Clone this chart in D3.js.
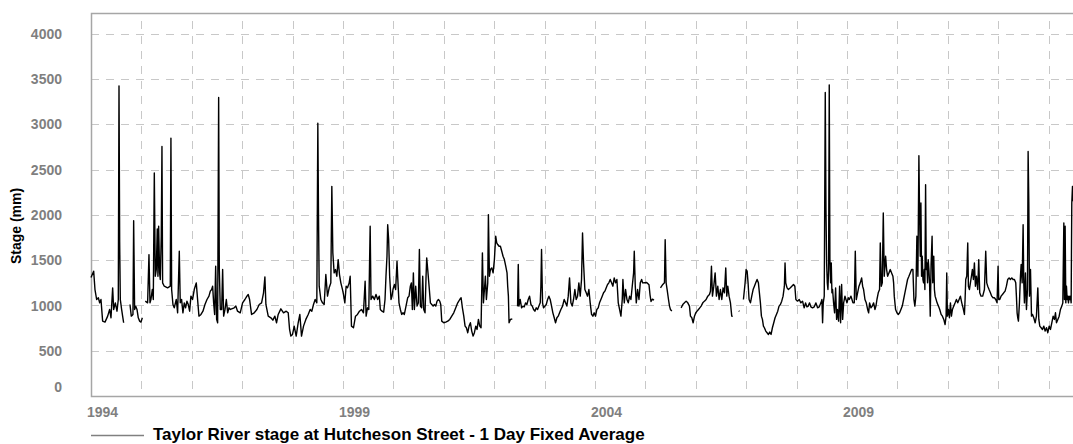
<!DOCTYPE html>
<html>
<head>
<meta charset="utf-8">
<script src="https://cdn.jsdelivr.net/npm/d3@7"></script>
<style>
  body { margin: 0; background: #fff; }
  text { font-family: "Liberation Sans", Arial, sans-serif; font-weight: bold; }
</style>
</head>
<body>
<div id="chart"></div>
<script>
// decimal year of each reading, null value = no data (gap)
const years = [
  1994.000,1994.053,1994.079,1994.112,1994.146,1994.172,1994.198,1994.231,1994.278,1994.331,1994.370,1994.397,
  1994.430,1994.450,1994.483,1994.516,1994.542,1994.556,1994.569,1994.582,1994.608,1994.628,1994.648,1994.700,
  1994.774,1994.800,1994.833,1994.847,1994.866,1994.886,1994.913,1994.939,1994.966,1994.992,1995.019,1995.050,
  1995.078,1995.124,1995.151,1995.171,1995.190,1995.217,1995.237,1995.257,1995.276,1995.296,1995.316,1995.329,
  1995.343,1995.362,1995.376,1995.395,1995.409,1995.422,1995.455,1995.521,1995.574,1995.587,1995.601,1995.627,
  1995.653,1995.693,1995.720,1995.753,1995.772,1995.799,1995.825,1995.852,1995.878,1995.905,1995.931,1995.958,
  1995.984,1996.017,1996.050,1996.090,1996.116,1996.143,1996.183,1996.222,1996.262,1996.302,1996.341,1996.368,
  1996.394,1996.414,1996.434,1996.454,1996.474,1996.493,1996.513,1996.533,1996.546,1996.566,1996.593,1996.612,
  1996.632,1996.659,1996.685,1996.712,1996.738,1996.765,1996.841,1996.874,1996.907,1996.960,1997.007,1997.053,
  1997.093,1997.119,1997.146,1997.185,1997.238,1997.291,1997.337,1997.384,1997.423,1997.450,1997.470,1997.516,
  1997.569,1997.608,1997.648,1997.681,1997.714,1997.767,1997.820,1997.873,1997.913,1997.940,1997.966,1997.999,
  1998.032,1998.071,1998.111,1998.144,1998.177,1998.217,1998.263,1998.310,1998.349,1998.382,1998.415,1998.448,
  1998.481,1998.501,1998.514,1998.528,1998.561,1998.594,1998.627,1998.660,1998.693,1998.726,1998.759,1998.779,
  1998.799,1998.825,1998.852,1998.878,1998.905,1998.931,1998.958,1998.991,1999.011,1999.037,1999.063,1999.090,
  1999.123,1999.143,1999.169,1999.209,1999.249,1999.288,1999.328,1999.368,1999.407,1999.440,1999.460,1999.487,
  1999.513,1999.540,1999.557,1999.590,1999.623,1999.656,1999.689,1999.722,1999.742,1999.775,1999.808,1999.835,
  1999.854,1999.874,1999.888,1999.907,1999.927,1999.954,1999.974,1999.993,2000.020,2000.046,2000.073,2000.086,
  2000.112,2000.139,2000.165,2000.192,2000.218,2000.251,2000.284,2000.311,2000.337,2000.357,2000.377,2000.397,
  2000.417,2000.443,2000.470,2000.496,2000.516,2000.536,2000.562,2000.582,2000.602,2000.628,2000.648,2000.661,
  2000.681,2000.708,2000.734,2000.761,2000.788,2000.813,2000.840,2000.866,2000.893,2000.919,2000.939,2000.959,
  2000.999,2001.038,2001.078,2001.118,2001.157,2001.197,2001.237,2001.276,2001.316,2001.343,2001.369,2001.396,
  2001.422,2001.448,2001.475,2001.501,2001.528,2001.554,2001.581,2001.607,2001.634,2001.660,2001.687,2001.713,
  2001.739,2001.766,2001.786,2001.806,2001.825,2001.845,2001.872,2001.885,2001.905,2001.925,2001.951,2001.978,
  2002.004,2002.030,2002.050,2002.070,2002.097,2002.123,2002.150,2002.176,2002.202,2002.229,2002.255,2002.268,
  2002.282,2002.295,2002.321,2002.359,2002.410,
  2002.464,2002.478,2002.491,2002.517,2002.544,2002.570,2002.597,2002.623,2002.649,2002.676,2002.702,2002.729,
  2002.755,2002.782,2002.808,2002.835,2002.861,2002.888,2002.914,2002.927,2002.940,2002.960,2002.980,2003.007,
  2003.033,2003.060,2003.086,2003.112,2003.139,2003.165,2003.192,2003.218,2003.245,2003.271,2003.298,2003.324,
  2003.357,2003.390,2003.417,2003.443,2003.470,2003.496,2003.523,2003.549,2003.575,2003.602,2003.628,2003.655,
  2003.681,2003.708,2003.734,2003.754,2003.774,2003.800,2003.827,2003.853,2003.880,2003.906,2003.933,2003.959,
  2003.985,2004.012,2004.038,2004.065,2004.091,2004.118,2004.144,2004.171,2004.197,2004.224,2004.250,2004.276,
  2004.303,2004.329,2004.356,2004.382,2004.409,2004.435,2004.462,2004.488,2004.515,2004.541,2004.554,2004.581,
  2004.607,2004.634,2004.660,2004.687,2004.713,2004.739,2004.766,2004.779,2004.799,2004.819,2004.845,2004.872,
  2004.898,2004.925,2004.944,2005.025,2005.071,2005.091,2005.111,2005.140,2005.170,2005.230,
  2005.299,2005.345,2005.378,2005.392,2005.411,2005.431,2005.458,2005.478,2005.497,2005.524,2005.600,
  2005.709,2005.742,2005.775,2005.808,2005.841,2005.874,2005.894,2005.921,2005.947,2005.974,2006.000,2006.026,
  2006.053,2006.079,2006.106,2006.139,2006.172,2006.205,2006.238,2006.271,2006.291,2006.311,2006.331,2006.357,
  2006.384,2006.410,2006.437,2006.463,2006.489,2006.516,2006.542,2006.569,2006.595,2006.615,2006.635,2006.661,
  2006.688,2006.714,2006.734,2006.790,2006.853,2006.866,2006.900,
  2006.946,2006.979,2006.999,2007.019,2007.038,2007.058,2007.085,2007.111,2007.138,2007.164,2007.190,2007.217,
  2007.243,2007.263,2007.283,2007.303,2007.323,2007.343,2007.362,2007.389,2007.415,2007.442,2007.468,2007.495,
  2007.521,2007.548,2007.574,2007.601,2007.627,2007.653,2007.680,2007.706,2007.733,2007.746,2007.759,2007.772,
  2007.786,2007.812,2007.839,2007.878,2007.940,2007.967,2007.987,2008.020,2008.053,2008.086,2008.119,2008.152,
  2008.179,2008.205,2008.231,2008.258,2008.284,2008.317,2008.351,2008.384,2008.417,2008.450,2008.483,2008.503,
  2008.516,2008.529,2008.549,2008.569,2008.583,2008.596,2008.609,2008.622,2008.635,2008.648,2008.661,2008.675,
  2008.688,2008.701,2008.714,2008.734,2008.754,2008.774,2008.794,2008.810,2008.833,2008.853,2008.873,2008.893,
  2008.913,2008.933,2008.959,2008.979,2008.999,2009.025,2009.045,2009.078,2009.098,2009.118,2009.144,2009.164,
  2009.184,2009.210,2009.237,2009.263,2009.290,2009.310,2009.329,2009.356,2009.382,2009.409,2009.429,2009.448,
  2009.475,2009.501,2009.528,2009.554,2009.574,2009.594,2009.620,2009.646,2009.660,2009.680,2009.700,2009.720,
  2009.739,2009.766,2009.786,2009.806,2009.832,2009.858,2009.885,2009.911,2009.925,2009.938,2009.964,2009.991,
  2010.017,2010.044,2010.070,2010.097,2010.123,2010.149,2010.176,2010.202,2010.229,2010.255,2010.282,2010.308,
  2010.328,2010.347,2010.367,2010.387,2010.407,2010.427,2010.440,2010.454,2010.467,2010.480,2010.493,2010.507,
  2010.520,2010.533,2010.546,2010.560,2010.573,2010.586,2010.599,2010.612,2010.626,2010.639,2010.652,2010.669,
  2010.689,2010.702,2010.722,2010.735,2010.749,2010.769,2010.788,2010.815,2010.841,2010.868,2010.894,2010.921,
  2010.947,2010.967,2010.980,2010.993,2011.013,2011.033,2011.053,2011.073,2011.093,2011.119,2011.146,2011.172,
  2011.198,2011.225,2011.251,2011.278,2011.304,2011.331,2011.344,2011.357,2011.377,2011.397,2011.410,2011.430,
  2011.450,2011.470,2011.489,2011.509,2011.529,2011.549,2011.569,2011.595,2011.615,2011.635,2011.661,2011.694,
  2011.728,2011.754,2011.774,2011.794,2011.820,2011.847,2011.873,2011.899,2011.926,2011.952,2011.979,2011.999,
  2012.012,2012.032,2012.058,2012.085,2012.111,2012.138,2012.164,2012.190,2012.217,2012.243,2012.270,2012.296,
  2012.323,2012.349,2012.362,2012.376,2012.389,2012.402,2012.422,2012.442,2012.456,2012.476,2012.495,2012.508,
  2012.521,2012.541,2012.561,2012.581,2012.594,2012.608,2012.621,2012.641,2012.661,2012.681,2012.706,2012.733,
  2012.759,2012.786,2012.806,2012.825,2012.852,2012.878,2012.905,2012.931,2012.958,2012.984,2013.011,2013.037,
  2013.063,2013.090,2013.116,2013.136,2013.156,2013.183,2013.209,2013.235,2013.262,2013.282,2013.302,2013.315,
  2013.328,2013.341,2013.354,2013.368,2013.381,2013.394,2013.407,2013.421,2013.434,2013.447,2013.460,2013.474,
  2013.482
]

// stage in mm, same order as years
const stage = [
  1310,1379,1176,1066,1085,1029,1066,827,816,882,956,864,
  1195,956,1029,937,1066,3426,1709,1066,956,882,809,null,
  1011,882,901,1937,956,993,956,864,827,816,864,null,
  1048,1029,1562,1029,1066,1176,1066,2463,1323,1397,1845,1323,
  1875,1360,1287,1765,2757,1250,1213,1195,1213,2849,1176,1011,
  974,1066,919,1599,1029,1066,919,1029,974,1048,1011,937,
  1103,1066,1176,1250,1066,882,901,937,1011,1066,1103,1158,
  1176,1213,1029,901,1434,846,809,3298,1397,956,956,1397,
  882,956,1066,919,974,956,974,993,937,919,1029,1066,
  1103,1121,1066,901,919,956,1011,1029,1140,1316,1011,882,
  864,838,882,809,901,963,919,937,919,735,662,680,
  772,662,809,901,662,772,846,901,956,937,1011,1066,
  1029,3014,2022,1213,1066,1029,1011,1342,1103,1195,1250,2316,
  1581,1360,1397,1323,1507,1342,1250,1176,1121,1029,1213,1195,
  1250,1323,772,754,882,901,937,956,919,1268,882,974,
  956,1875,1066,1103,1066,1121,1066,1103,956,937,926,1066,
  1323,1544,1893,1728,1323,1066,1103,1176,1232,1176,1489,1323,
  1029,956,901,919,901,993,1085,1103,1213,1250,956,1360,
  956,1213,993,1029,1618,993,974,1323,956,919,1323,1526,
  1397,1213,1029,1011,993,1011,993,1048,1066,1048,1011,827,
  809,816,827,846,882,919,974,1029,1066,1085,974,882,
  772,754,699,772,809,717,662,699,772,735,846,772,
  754,1581,1029,1176,1323,1066,1250,2004,1323,1397,1415,1360,
  1507,1765,1691,1673,1654,1654,1599,1544,1507,1434,1360,1213,
  1103,809,846,850,null,
  990,1452,993,1066,974,993,985,1029,1011,1066,1103,1011,
  993,956,937,974,956,993,1029,1213,1618,1029,974,993,
  1011,1066,1103,1066,993,919,864,809,864,882,919,956,
  993,1066,1029,993,1103,1305,1029,993,1066,1176,1066,1103,
  1250,1103,1287,1801,1471,1176,1140,1103,1176,1029,901,882,
  919,882,956,974,1029,1066,1103,1140,1158,1195,1232,1250,
  1287,1250,1213,1305,1250,1287,1029,956,882,1066,1287,1029,
  1176,1066,1029,1103,1066,1213,1360,1599,1213,1029,1176,1066,
  1250,1287,1250,1254,1228,1118,1044,1070,1060,null,
  1195,1232,1250,1728,1250,1176,1066,993,956,937,null,
  974,1011,1029,1048,1029,993,882,864,809,882,919,937,
  956,974,993,1029,1048,1066,1103,1121,1158,1434,1103,1213,
  1360,1103,1213,1066,1176,1066,1195,1140,1415,1103,1213,1103,
  1029,882,880,null,940,935,null,
  1066,1250,1397,1379,1250,1066,1029,1103,1176,1213,1250,1287,
  1250,1140,1029,882,846,772,754,717,699,680,706,680,
  754,809,864,901,937,993,1011,1048,1103,1158,1213,1471,
  1250,1195,1176,1195,1232,1213,1066,1048,1066,1029,1048,974,
  1029,985,993,1029,985,974,985,1029,974,985,1029,1066,
  809,1029,1103,3353,2059,1471,1250,1176,1397,3437,1507,1250,
  1471,1140,1176,1029,919,1195,846,956,827,1213,809,1232,
  846,1029,1103,1066,1029,1085,1066,1103,1066,1029,1029,1599,
  1066,1140,1213,1250,1305,1213,1176,1066,1029,956,919,1029,
  974,993,1029,956,993,1066,1140,1176,1691,1213,1250,2022,
  1323,1544,1397,1323,1360,1397,1360,1323,1250,1103,956,919,
  901,919,956,993,1066,1140,1213,1287,1323,1360,1397,1397,
  1066,993,1103,1765,1323,2654,2022,1544,2132,1323,1544,1287,
  1250,1397,1176,2334,1397,1471,1250,1507,1397,1250,882,1452,
  1765,1250,1544,1176,1103,1066,1029,993,956,901,882,846,
  790,882,1360,882,956,864,1029,882,956,993,1029,1066,
  1029,1066,1103,1029,974,901,1066,1287,1323,1691,1213,1176,
  1250,1323,1397,1287,1471,1213,1323,1176,1507,1140,1103,1103,
  1176,1599,1250,1213,1176,1140,1103,1085,1085,1066,1029,1434,
  1066,1066,1103,1121,1140,1158,1213,1287,1305,1287,1305,1287,
  1287,1250,1103,919,864,827,1029,1323,1452,1250,1893,1250,
  1029,1360,956,1176,2702,2132,1103,1397,882,901,864,809,
  882,1195,846,772,754,735,772,717,754,699,772,735,
  809,882,846,919,809,846,882,956,993,1029,1912,1066,
  1875,1029,1213,1066,1103,1029,1103,1066,1103,1029,2132,2316,
  2150
]

if (years.length !== stage.length) {
  throw new Error('length mismatch ' + years.length + ' vs ' + stage.length)
}

const yTicks = [0, 500, 1000, 1500, 2000, 2500, 3000, 3500, 4000]
const xLabelYears = [1994, 1999, 2004, 2009]
const seriesName = 'Taylor River stage at Hutcheson Street - 1 Day Fixed Average'

// decimal year -> UTC date
function toDate (yv) {
  const yr = Math.floor(yv)
  const a = Date.UTC(yr, 0, 1)
  const b = Date.UTC(yr + 1, 0, 1)
  return new Date(a + (yv - yr) * (b - a))
}

const data = years.map((yv, i) => ({ date: toDate(yv), value: stage[i] }))

const W = 1073, H = 444
const plotLeft = 91, plotRight = 1073, plotTop = 13, plotBottom = 396

const svg = d3.select('#chart').append('svg')
  .attr('width', W)
  .attr('height', H)

const x = d3.scaleUtc()
  .domain([toDate(1994), toDate(2013.484)])
  .range([plotLeft, plotRight])

const y = d3.scaleLinear()
  .domain([0, 4231])
  .range([plotBottom, plotTop])

const gridColor = '#c8c8c8'
const axisColor = '#a6a6a6'

// horizontal grid
svg.append('g')
  .selectAll('line')
  .data(yTicks.filter(d => d > 0))
  .enter()
  .append('line')
  .attr('x1', plotLeft)
  .attr('x2', plotRight)
  .attr('y1', d => Math.round(y(d)) + 0.5)
  .attr('y2', d => Math.round(y(d)) + 0.5)
  .attr('stroke', gridColor)
  .attr('stroke-dasharray', '8,7')

// vertical grid, one per year
const yearTicks = d3.utcYear.range(toDate(1995), toDate(2013.484))
svg.append('g')
  .selectAll('line')
  .data(yearTicks)
  .enter()
  .append('line')
  .attr('x1', d => Math.round(x(d)) + 0.5)
  .attr('x2', d => Math.round(x(d)) + 0.5)
  .attr('y1', plotTop + 8)
  .attr('y2', plotBottom)
  .attr('stroke', gridColor)
  .attr('stroke-dasharray', '8,7')

// frame: top, left, bottom
svg.append('path')
  .attr('d', `M${plotRight},${plotTop + 0.5}H${plotLeft + 0.5}V${plotBottom + 0.5}H${plotRight}`)
  .attr('fill', 'none')
  .attr('stroke', axisColor)
  .attr('stroke-width', 1.5)

// y tick labels
svg.append('g')
  .selectAll('text')
  .data(yTicks)
  .enter()
  .append('text')
  .attr('x', 62)
  .attr('y', d => d === 0 ? y(d) - 9.5 : y(d))
  .attr('dy', '0.36em')
  .attr('text-anchor', 'end')
  .attr('fill', '#7f7f7f')
  .style('font-size', '14px')
  .text(d => d)

// x tick labels
svg.append('g')
  .selectAll('text')
  .data(xLabelYears)
  .enter()
  .append('text')
  .attr('x', d => x(toDate(d)) - 4)
  .attr('y', 417)
  .attr('fill', '#7f7f7f')
  .style('font-size', '14px')
  .text(d => d)

// y axis title
svg.append('text')
  .attr('transform', 'translate(21, 226) rotate(-90)')
  .attr('text-anchor', 'middle')
  .attr('fill', '#000')
  .style('font-size', '14px')
  .text('Stage (mm)')

// data line
const line = d3.line()
  .defined(d => d.value !== null)
  .x(d => x(d.date))
  .y(d => y(d.value))

svg.append('path')
  .datum(data)
  .attr('d', line)
  .attr('fill', 'none')
  .attr('stroke', '#000')
  .attr('stroke-width', 1.4)
  .attr('stroke-linejoin', 'round')

// legend
svg.append('line')
  .attr('x1', 91)
  .attr('x2', 144)
  .attr('y1', 435.5)
  .attr('y2', 435.5)
  .attr('stroke', '#808080')
  .attr('stroke-width', 1.5)

svg.append('text')
  .attr('x', 153)
  .attr('y', 440)
  .attr('fill', '#000')
  .style('font-size', '17px')
  .text(seriesName)
</script>
</body>
</html>
